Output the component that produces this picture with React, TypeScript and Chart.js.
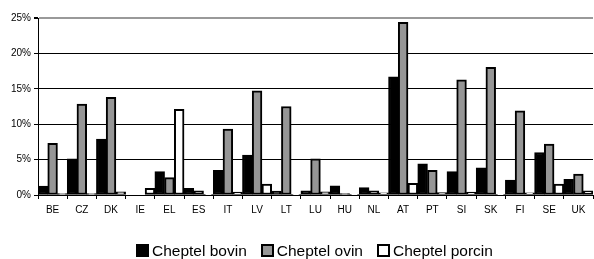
import React, { useEffect, useRef } from "react";
import { Chart, registerables } from "chart.js";

Chart.register(...registerables);

const categories = ["BE", "CZ", "DK", "IE", "EL", "ES", "IT", "LV", "LT", "LU", "HU", "NL", "AT", "PT", "SI", "SK", "FI", "SE", "UK"];
const bovin = [1.25, 5.1, 7.9, 0, 3.3, 0.95, 3.5, 5.65, 0.55, 0.6, 1.3, 1.05, 16.7, 4.4, 3.3, 3.85, 2.1, 6.0, 2.2];
const ovin = [7.3, 12.85, 13.8, 0, 2.45, 0.6, 9.3, 14.7, 12.5, 5.1, 0.2, 0.6, 24.4, 3.5, 16.25, 18.05, 11.9, 7.2, 2.95];
const porcin = [0.2, 0.2, 0.45, 0.95, 12.1, 0.1, 0.4, 1.55, 0.05, 0.45, 0.05, 0.3, 1.65, 0.35, 0.4, 0.05, 0.3, 1.55, 0.6];
const yTicks = [0, 5, 10, 15, 20, 25];
const seriesLabels = ["Cheptel bovin", "Cheptel ovin", "Cheptel porcin"];
const seriesColors = ["#000000", "#969696", "#ffffff"];

const FONT = "'Liberation Sans', Arial, sans-serif";

export default function App() {
  const ref = useRef<HTMLCanvasElement | null>(null);
  useEffect(() => {
    document.body.style.margin = "0";
    const ctx = ref.current!;
    const chart = new Chart(ctx, {
      type: "bar",
      data: {
        labels: categories,
        datasets: [
          { label: seriesLabels[0], data: bovin, backgroundColor: seriesColors[0], borderColor: "#000000", borderWidth: 2 },
          { label: seriesLabels[1], data: ovin, backgroundColor: seriesColors[1], borderColor: "#000000", borderWidth: 2 },
          { label: seriesLabels[2], data: porcin, backgroundColor: seriesColors[2], borderColor: "#000000", borderWidth: 2 },
        ],
      },
      options: {
        animation: false,
        responsive: false,
        maintainAspectRatio: false,
        devicePixelRatio: 1,
        layout: { padding: { top: 18, right: 1, bottom: 35, left: 0 } },
        datasets: { bar: { categoryPercentage: 1, barPercentage: 1, borderSkipped: false } },
        plugins: {
          legend: { display: false },
          tooltip: { enabled: false },
        },
        scales: {
          x: {
            afterFit: (s: any) => { s.height = 29; },
            grid: { drawOnChartArea: false, drawTicks: true, tickLength: 4, offset: true, color: "#000" },
            border: { color: "#000", width: 1 },
            ticks: { color: "#000", font: { family: FONT, size: 10 }, padding: 5, maxRotation: 0, autoSkip: false },
          },
          y: {
            min: 0,
            max: 25,
            afterFit: (s: any) => { s.width = 38; },
            afterBuildTicks: (s: any) => { s.ticks = yTicks.map((v) => ({ value: v })); },
            grid: {
              color: (c: any) => (c.tick && c.tick.value === 25 ? "#999999" : "#000000"),
              lineWidth: (c: any) => (c.tick && c.tick.value === 25 ? 2 : 1),
              tickColor: "#000",
              tickLength: 4,
            },
            border: { color: "#000", width: 1 },
            ticks: { color: "#000", font: { family: FONT, size: 10 }, padding: 3, callback: (v: any) => v + "%" },
          },
        },
      },
    });
    return () => chart.destroy();
  }, []);
  return (
    <div style={{ position: "absolute", left: 0, top: 0, width: 594, height: 259 }}>
      <canvas ref={ref} width={594} height={259} style={{ width: 594, height: 259, display: "block" }} />
      <div
        style={{
          position: "absolute",
          left: 136,
          top: 242,
          display: "flex",
          alignItems: "center",
          fontFamily: FONT,
          fontSize: 15.5,
          lineHeight: "17px",
          color: "#000",
          whiteSpace: "nowrap",
        }}
      >
        {seriesLabels.map((l, i) => (
          <div key={l} style={{ display: "flex", alignItems: "center", marginRight: i < 2 ? 14 : 0 }}>
            <span
              style={{
                display: "inline-block",
                width: 9,
                height: 9,
                border: "2px solid #000",
                background: seriesColors[i],
                marginRight: 3,
              }}
            />
            <span>{l}</span>
          </div>
        ))}
      </div>
    </div>
  );
}
